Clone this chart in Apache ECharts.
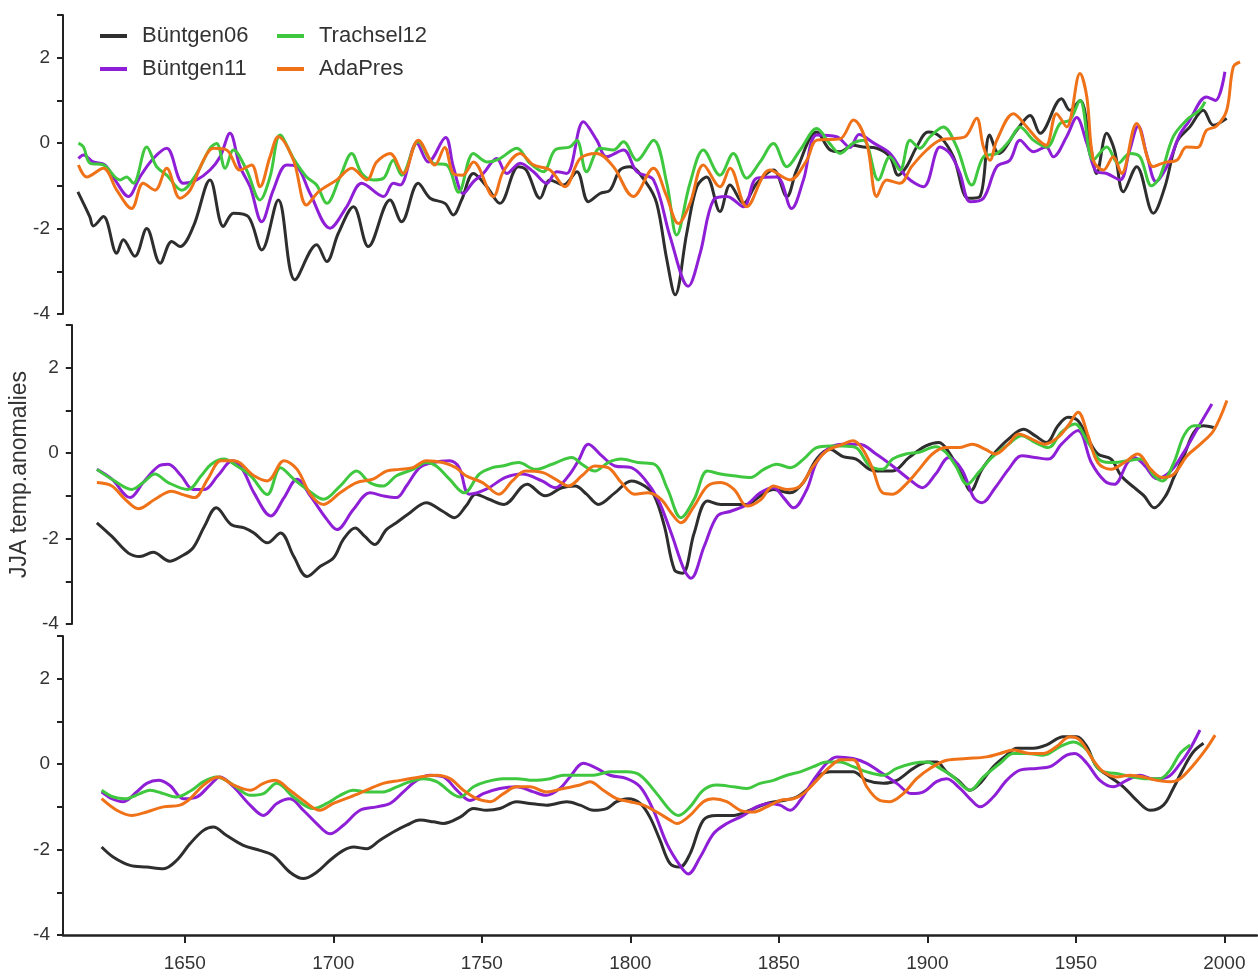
<!DOCTYPE html>
<html>
<head>
<meta charset="utf-8">
<script src="https://cdn.jsdelivr.net/npm/echarts@6/dist/echarts.min.js"></script>
<style>
html,body{margin:0;padding:0;background:#fff;}
#chart{width:1258px;height:979px;}
</style>
</head>
<body>
<div id="chart"></div>
<script>
// ---- data: [year, JJA temperature anomaly] ----
// Panel 1 (top)
const b06_p1 = [[1614,-1.14],[1618,-1.72],[1619.2,-1.94],[1622.6,-1.72],[1627.1,-2.58],[1629.3,-2.26],[1633.2,-2.65],[1637.2,-2.0],[1641.7,-2.81],[1645.6,-2.3],[1648.4,-2.42],[1652.9,-1.95],[1658.5,-0.86],[1663,-1.95],[1666.4,-1.64],[1671.4,-1.72],[1675.9,-2.5],[1681.5,-1.33],[1687.1,-3.2],[1694.4,-2.38],[1697.8,-2.77],[1701.7,-2.11],[1706.8,-1.49],[1711.8,-2.42],[1719.1,-1.33],[1723,-1.84],[1728.6,-0.94],[1732.6,-1.29],[1737.6,-1.41],[1740.4,-1.68],[1743.2,-1.33],[1747.2,-0.71],[1751.7,-1.02],[1756.1,-1.41],[1762.3,-0.55],[1765,-0.63],[1769.6,-1.29],[1773,-0.86],[1777.5,-0.98],[1782,-0.67],[1785.9,-1.37],[1789.8,-1.18],[1793.2,-1.1],[1796.5,-0.63],[1799.9,-0.55],[1805.5,-0.94],[1808.9,-1.41],[1812.3,-2.73],[1815.1,-3.55],[1819,-2.11],[1822.4,-1.02],[1825.7,-0.79],[1830.2,-1.6],[1833.6,-0.98],[1838.1,-1.41],[1842.6,-0.94],[1848.2,-0.63],[1852.7,-1.25],[1856,-0.63],[1862.8,0.26],[1867.3,-0.16],[1870.6,-0.2],[1875,-0.05],[1878.5,-0.09],[1883,-0.12],[1887.4,-0.32],[1890.2,-0.75],[1893,-0.55],[1896.4,-0.09],[1900.3,0.26],[1904.3,0.15],[1908.8,-0.32],[1913.8,-1.29],[1917.7,-1.25],[1921,0.19],[1924,-0.24],[1930.1,0.3],[1934.6,0.65],[1938,0.23],[1945.2,1.04],[1948,0.77],[1951.4,1.0],[1954.8,-0.01],[1957,-0.71],[1960.4,0.23],[1963,-0.16],[1966,-1.14],[1970.5,-0.55],[1976.1,-1.64],[1980,-1.02],[1984,0.03],[1988.4,0.38],[1992.9,0.77],[1996.3,0.42],[2000.8,0.58]];
const b11_p1 = [[1614.2,-0.36],[1615.9,-0.28],[1619.2,-0.44],[1623.1,-0.51],[1626.5,-0.86],[1631,-1.25],[1634.9,-0.79],[1639.4,-0.36],[1643.9,-0.12],[1649.5,-0.94],[1654,-0.86],[1658.5,-0.63],[1661.9,-0.32],[1665.2,0.23],[1668.6,-0.55],[1672,-1.02],[1675.9,-1.84],[1679.8,-1.1],[1684.3,-0.51],[1687.7,-0.55],[1692.2,-1.18],[1698.9,-1.99],[1704.5,-1.49],[1709.6,-0.94],[1716.9,-1.25],[1720.2,-0.94],[1722.5,-0.98],[1728.1,0.0],[1732,-0.44],[1737.8,0.13],[1740.4,-0.55],[1743.8,-1.18],[1747.2,-0.9],[1750.5,-0.71],[1755,-0.36],[1758.4,-0.71],[1762.9,-0.47],[1767.4,-0.67],[1771.9,-0.94],[1775.2,-0.67],[1778.6,-0.71],[1784.2,0.5],[1788.7,0.07],[1792,-0.32],[1797.7,-0.16],[1802.2,-0.67],[1807.8,-0.86],[1813.4,-2.19],[1819.5,-3.35],[1823.5,-2.58],[1828,-1.33],[1832.5,-1.25],[1838.1,-1.49],[1842.6,-0.82],[1849.3,-0.79],[1854.3,-1.53],[1858.3,-0.86],[1862.8,0.19],[1869.5,0.15],[1874,-0.1],[1877,0.2],[1882,0.0],[1887.4,-0.24],[1893,-0.79],[1898.7,-1.02],[1904.3,-0.09],[1907.6,-0.24],[1911,-0.71],[1914.4,-1.37],[1918.9,-1.29],[1923.4,-0.55],[1927.8,-0.4],[1931.2,0.07],[1935.7,-0.2],[1940,-0.09],[1942.4,-0.32],[1946.9,0.15],[1950.3,0.6],[1953.7,0.0],[1957,-0.67],[1960.4,-0.71],[1964.9,-0.86],[1968,-0.2],[1971,0.4],[1974,-0.3],[1977,-0.9],[1981,-0.5],[1985,0.2],[1988,0.5],[1994,1.08],[1997,1.0],[2000.2,1.67]];
const t12_p1 = [[1614.2,0.0],[1615.9,-0.09],[1618.1,-0.47],[1622.6,-0.51],[1628.2,-0.86],[1630.4,-0.79],[1632.7,-0.94],[1637.2,-0.09],[1640.5,-0.55],[1643.9,-0.75],[1649,-1.1],[1654,-0.71],[1658.5,-0.12],[1660.7,-0.01],[1663.6,-0.59],[1666.4,-0.16],[1670.8,-0.63],[1675.3,-1.33],[1678.7,-0.79],[1682.1,0.19],[1686.6,-0.36],[1691,-0.79],[1694.4,-0.98],[1697.8,-1.41],[1702.3,-0.79],[1706.2,-0.24],[1709.6,-0.71],[1713.5,-0.86],[1716.9,-0.82],[1720.2,-0.4],[1723,-0.75],[1728.6,0.03],[1733.7,-0.47],[1738.2,-0.51],[1742.2,-1.15],[1747.2,-0.24],[1751.7,-0.44],[1756.1,-0.36],[1761.8,-0.12],[1766.2,-0.47],[1770.7,-0.67],[1774.7,-0.16],[1779.7,-0.09],[1782,0.07],[1785.3,-0.67],[1789.8,-0.12],[1794.3,-0.16],[1797.7,0.03],[1802.2,-0.4],[1807.8,0.07],[1812.3,-0.94],[1815.6,-2.15],[1820.1,-0.94],[1824.6,-0.16],[1830.2,-0.75],[1834.7,-0.24],[1839.2,-0.82],[1843.7,-0.44],[1848.2,-0.01],[1852.7,-0.55],[1857.2,-0.16],[1862.8,0.34],[1867,0.0],[1870.6,-0.24],[1875,0.0],[1878.5,0.07],[1883.5,-0.86],[1887.4,-0.32],[1890.8,-0.63],[1894.2,0.07],[1897.5,-0.12],[1900.9,0.15],[1905.4,0.38],[1909.9,-0.09],[1915,-0.98],[1918.9,-0.32],[1923.4,-0.24],[1927.8,0.07],[1931.2,0.38],[1935.7,0.07],[1940.2,-0.09],[1944.7,0.46],[1948,0.54],[1951.4,1.0],[1955.9,-0.4],[1960.4,-0.09],[1964.3,-0.47],[1968.2,-0.24],[1971.6,-0.32],[1975.5,-1.0],[1978.3,-0.79],[1982.8,0.15],[1987.3,0.54],[1991.6,0.77],[1993.5,0.97]];
const ada_p1 = [[1614.2,-0.51],[1617,-0.79],[1622.6,-0.59],[1627.1,-1.1],[1632.1,-1.53],[1636,-0.94],[1640,-1.1],[1643.9,-0.59],[1648.4,-1.29],[1651.8,-1.1],[1656.3,-0.4],[1659.6,-0.12],[1664.1,-0.16],[1668.6,-0.63],[1672.5,-0.51],[1675.3,-1.02],[1678.7,-0.32],[1681.5,0.15],[1686.6,-0.4],[1691,-1.45],[1695,-1.14],[1701.2,-0.86],[1706.2,-0.59],[1711.3,-0.86],[1714.6,-0.44],[1719.1,-0.24],[1723.6,-0.71],[1728.6,0.07],[1734.2,-0.51],[1737.5,-0.1],[1740.5,-0.72],[1743.5,-0.75],[1747.2,-0.44],[1753.9,-1.25],[1757.2,-0.67],[1762.9,-0.24],[1767.4,-0.51],[1773,-0.63],[1778,-1.02],[1783.1,-0.36],[1788.7,-0.24],[1794.3,-0.55],[1801,-1.25],[1807.8,-0.59],[1812,-1.2],[1816.2,-1.88],[1820.1,-1.41],[1824.6,-0.51],[1830.2,-1.02],[1833.6,-0.59],[1839.2,-1.49],[1847,-0.63],[1853.8,-0.86],[1859.4,-0.4],[1862.8,0.07],[1870.6,0.1],[1875.1,0.54],[1879.6,0.0],[1883,-1.25],[1886.3,-0.86],[1890.8,-0.94],[1894.7,-0.55],[1899.8,-0.16],[1904.3,0.07],[1908.8,0.11],[1912.7,0.15],[1916.6,0.58],[1918.9,-0.09],[1921.1,-0.4],[1923.4,0.07],[1929,0.69],[1933.5,0.38],[1937,0.1],[1940,-0.05],[1943.5,0.69],[1946.9,0.38],[1951.4,1.63],[1953.7,1.08],[1955.9,-0.4],[1959.3,-0.63],[1962.6,-0.32],[1965.4,-0.71],[1970.5,0.46],[1976.1,-0.55],[1980,-0.45],[1984,-0.4],[1987.3,-0.09],[1991,-0.1],[1994,0.3],[1997.4,0.4],[2000.8,0.77],[2003,1.78],[2005.3,1.9]];
// Panel 2 (middle)
const b06_p2 = [[1617.5,-1.63],[1622.6,-1.95],[1628.2,-2.34],[1632.1,-2.42],[1636.6,-2.32],[1642.2,-2.53],[1646,-2.42],[1650.1,-2.22],[1654,-1.71],[1658,-1.28],[1663,-1.67],[1667.5,-1.75],[1670.8,-1.87],[1675.3,-2.1],[1679.8,-1.87],[1684.3,-2.42],[1688.8,-2.89],[1693.3,-2.65],[1697.8,-2.45],[1701.1,-2.02],[1705.1,-1.75],[1708.4,-1.95],[1711.8,-2.14],[1715.7,-1.79],[1719.1,-1.63],[1723.6,-1.4],[1729.2,-1.16],[1734.8,-1.36],[1738.8,-1.51],[1742.7,-1.24],[1746,-0.96],[1750.5,-1.08],[1755.6,-1.2],[1763.4,-0.73],[1769.6,-1.0],[1775.2,-0.81],[1779.7,-0.77],[1783.6,-0.96],[1787.6,-1.2],[1793.2,-0.93],[1798.8,-0.65],[1803.3,-0.77],[1806.6,-1.0],[1810,-1.71],[1813.4,-2.73],[1816.2,-2.81],[1820.1,-1.87],[1824.6,-1.12],[1829.1,-1.2],[1833.6,-1.2],[1838.1,-1.2],[1842.5,-1.0],[1847,-0.85],[1852.7,-0.93],[1857.1,-0.69],[1861.6,-0.14],[1866.1,0.09],[1870.6,-0.08],[1875,-0.14],[1879.6,-0.38],[1883,-0.42],[1887.4,-0.42],[1893,-0.1],[1898.7,0.17],[1903.1,0.25],[1906.5,0.02],[1911,-0.53],[1913.8,-0.89],[1917.7,-0.38],[1922.2,0.02],[1926.7,0.33],[1931.8,0.56],[1935.7,0.41],[1939.6,0.25],[1943.5,0.64],[1946.9,0.84],[1950.3,0.76],[1953.7,0.33],[1957,-0.02],[1961.5,-0.14],[1964.9,-0.53],[1969.4,-0.81],[1972.7,-1.0],[1976.1,-1.28],[1980,-1.0],[1982.8,-0.57],[1986.2,-0.06],[1989.6,0.49],[1992.9,0.64],[1996.3,0.6]];
const b11_p2 = [[1617.5,-0.38],[1622.6,-0.61],[1628.8,-1.04],[1633.2,-0.69],[1638.3,-0.31],[1641.7,-0.26],[1646.1,-0.53],[1650.1,-0.85],[1654,-0.85],[1658.5,-0.53],[1663.5,-0.18],[1666.9,-0.38],[1670.8,-0.93],[1676.5,-1.47],[1681,-1.04],[1685.4,-0.61],[1689.9,-1.0],[1695.5,-1.55],[1698.9,-1.79],[1704.5,-1.32],[1710.1,-0.93],[1714.6,-1.0],[1719.1,-1.04],[1722.5,-0.77],[1727,-0.34],[1731.5,-0.22],[1737.1,-0.18],[1740.4,-0.34],[1743.8,-0.96],[1749.4,-0.85],[1756.1,-0.57],[1761.7,-0.49],[1768.5,-0.65],[1773,-0.81],[1777.5,-0.53],[1780.8,-0.18],[1784.2,0.21],[1788.7,-0.06],[1793.2,-0.3],[1798.8,-0.34],[1803.3,-0.61],[1807.8,-1.08],[1812.3,-1.87],[1816.7,-2.73],[1819,-2.93],[1823.5,-2.18],[1828,-1.47],[1832.5,-1.36],[1838.1,-1.2],[1842.5,-0.93],[1847,-0.81],[1850.4,-1.04],[1853.8,-1.28],[1858.3,-0.85],[1861.6,-0.22],[1866.1,0.13],[1870.6,0.21],[1876.2,0.21],[1881.8,-0.02],[1887.4,-0.3],[1893,-0.61],[1897.5,-0.81],[1902,-0.49],[1906.5,-0.1],[1911,-0.4],[1914.9,-1.04],[1917.7,-1.16],[1922.2,-0.81],[1926.7,-0.38],[1931.2,-0.06],[1935.7,-0.1],[1940.2,-0.14],[1944.7,0.21],[1950.3,0.53],[1954.8,-0.22],[1959.3,-0.65],[1962.6,-0.73],[1967.1,-0.22],[1969.4,-0.1],[1973,-0.3],[1977,-0.6],[1982,-0.4],[1986,0.0],[1990.7,0.56],[1995.7,1.15]];
const t12_p2 = [[1617.5,-0.38],[1622.6,-0.61],[1629.3,-0.85],[1633.2,-0.69],[1637.2,-0.49],[1641.7,-0.69],[1648.4,-0.85],[1652.9,-0.53],[1656.3,-0.26],[1660.7,-0.14],[1664.1,-0.26],[1669.7,-0.53],[1675.3,-0.97],[1679.8,-0.34],[1684.3,-0.61],[1688.8,-0.85],[1694.4,-1.08],[1700,-0.77],[1705.6,-0.42],[1710.1,-0.69],[1714.6,-0.77],[1719.1,-0.53],[1724.7,-0.38],[1729.2,-0.22],[1732.6,-0.3],[1737.1,-0.61],[1742.1,-0.93],[1747.2,-0.49],[1751.6,-0.34],[1755,-0.3],[1760.6,-0.22],[1766.2,-0.38],[1771.9,-0.26],[1778.6,-0.1],[1782,-0.26],[1786.4,-0.42],[1790.9,-0.22],[1795.4,-0.14],[1801,-0.22],[1806.6,-0.26],[1811.1,-0.85],[1815.6,-1.51],[1820.1,-1.08],[1824.6,-0.42],[1829.1,-0.49],[1833.6,-0.53],[1839.2,-0.57],[1843.7,-0.38],[1848.2,-0.26],[1852.7,-0.34],[1857.2,-0.14],[1861.6,0.13],[1866.1,0.17],[1870.6,0.17],[1875,0.13],[1879.6,-0.3],[1884,-0.38],[1887.4,-0.14],[1891.9,-0.02],[1896.4,0.02],[1902,0.15],[1905.4,0.02],[1908.8,-0.3],[1912.7,-0.73],[1916.6,-0.45],[1921.1,-0.1],[1926.7,0.21],[1931.2,0.41],[1935.7,0.25],[1940.2,0.13],[1944.7,0.49],[1949.2,0.68],[1953.7,0.25],[1958.1,-0.18],[1962.6,-0.22],[1967.1,-0.18],[1971.6,-0.14],[1976.1,-0.53],[1978.9,-0.65],[1982.8,-0.22],[1986.2,0.41],[1989.6,0.64],[1992,0.64]];
const ada_p2 = [[1617.5,-0.69],[1622.6,-0.77],[1627.1,-1.08],[1631.6,-1.3],[1637.2,-1.08],[1642.8,-0.89],[1646.7,-0.97],[1650.6,-1.04],[1655.1,-0.61],[1659.6,-0.18],[1664.1,-0.18],[1670.8,-0.53],[1675.3,-0.65],[1681,-0.18],[1685.4,-0.38],[1690,-0.97],[1694.4,-1.2],[1700,-0.93],[1705.6,-0.69],[1711.2,-0.61],[1715.7,-0.42],[1720.2,-0.38],[1724.7,-0.34],[1729.2,-0.18],[1734.8,-0.22],[1739.3,-0.34],[1742.7,-0.53],[1748.3,-0.69],[1753.9,-0.96],[1758.4,-0.65],[1762.9,-0.42],[1768.5,-0.45],[1773,-0.61],[1777.5,-0.77],[1782,-0.53],[1786.4,-0.3],[1790.9,-0.34],[1795.4,-0.69],[1799.9,-0.96],[1804.4,-0.93],[1808.9,-1.08],[1812.3,-1.4],[1815.6,-1.63],[1820.1,-1.24],[1824.6,-0.77],[1829.1,-0.69],[1833.6,-0.85],[1838.1,-1.24],[1842.5,-1.1],[1847,-0.77],[1851.5,-0.85],[1856,-0.77],[1860.5,-0.3],[1865,0.05],[1870.6,0.21],[1874,0.29],[1877.3,0.09],[1880.7,-0.38],[1884,-0.93],[1887.4,-0.96],[1891.9,-0.73],[1896.4,-0.38],[1900.9,-0.02],[1905.4,0.13],[1909.9,0.13],[1914.4,0.21],[1918.9,0.09],[1922.2,-0.02],[1926.7,0.21],[1930.1,0.45],[1934.6,0.33],[1939,0.21],[1943.5,0.37],[1946.9,0.64],[1950.3,0.96],[1953.7,0.41],[1957,-0.22],[1961.5,-0.38],[1966,-0.22],[1970.5,-0.02],[1975,-0.38],[1978.9,-0.57],[1982.8,-0.49],[1987.3,-0.06],[1991.8,0.21],[1996.3,0.53],[2000.8,1.23]];
// Panel 3 (bottom)
const b06_p3 = [[1622,-1.94],[1626,-2.18],[1631.6,-2.37],[1637.2,-2.41],[1642.8,-2.45],[1647.3,-2.25],[1651.8,-1.86],[1656.3,-1.55],[1659.6,-1.47],[1664.1,-1.67],[1669.7,-1.9],[1675.3,-2.02],[1679.8,-2.14],[1685.4,-2.53],[1689.9,-2.68],[1694.4,-2.53],[1698.9,-2.25],[1703.4,-2.02],[1706.8,-1.94],[1711.2,-1.98],[1715.7,-1.78],[1720.2,-1.59],[1724.7,-1.43],[1729.2,-1.31],[1733.7,-1.35],[1737.1,-1.39],[1742.7,-1.24],[1747.2,-1.04],[1751.6,-1.08],[1756.1,-1.04],[1761.7,-0.88],[1766.2,-0.92],[1771.8,-0.96],[1778.6,-0.88],[1783.1,-0.96],[1787.6,-1.08],[1792,-1.04],[1795.4,-0.88],[1799.3,-0.81],[1803.3,-0.92],[1806.6,-1.24],[1810,-1.78],[1813.4,-2.33],[1816.7,-2.41],[1820.1,-2.1],[1824.6,-1.31],[1829.1,-1.2],[1834.7,-1.2],[1840.3,-1.08],[1845.9,-0.92],[1851.5,-0.85],[1856,-0.77],[1860.5,-0.53],[1863.9,-0.26],[1867.3,-0.18],[1870.6,-0.18],[1875,-0.18],[1879.6,-0.38],[1885.2,-0.45],[1889.7,-0.38],[1895.3,-0.1],[1900.3,0.05],[1903.1,0.05],[1906.5,-0.18],[1910.4,-0.38],[1914.4,-0.61],[1917.7,-0.45],[1922.2,-0.06],[1926.7,0.21],[1930.1,0.37],[1935.7,0.37],[1940.2,0.45],[1945.8,0.64],[1950.3,0.64],[1953.7,0.41],[1957,-0.06],[1961.5,-0.3],[1966,-0.53],[1970.5,-0.85],[1975,-1.08],[1979.5,-0.96],[1982.8,-0.57],[1986.2,-0.1],[1989.6,0.29],[1993,0.49]];
const b11_p3 = [[1622,-0.65],[1625.4,-0.81],[1629.3,-0.88],[1633.8,-0.65],[1637.2,-0.45],[1641.1,-0.38],[1645,-0.5],[1649.5,-0.81],[1654,-0.77],[1658.5,-0.49],[1661.9,-0.3],[1666.4,-0.53],[1672,-0.96],[1676.5,-1.2],[1681,-0.92],[1685.4,-0.81],[1689.9,-1.08],[1694.4,-1.39],[1698.9,-1.63],[1703.4,-1.43],[1709,-1.08],[1714.6,-1.0],[1719.1,-0.92],[1723.6,-0.65],[1728.1,-0.38],[1732.6,-0.26],[1737.1,-0.3],[1741.5,-0.6],[1746,-0.85],[1750.5,-0.69],[1756.1,-0.57],[1761.7,-0.53],[1767.4,-0.65],[1771.8,-0.73],[1776.3,-0.57],[1779.7,-0.3],[1784.2,0.02],[1788.7,-0.1],[1793.2,-0.26],[1798.8,-0.34],[1803.3,-0.53],[1807.8,-1.08],[1812.3,-1.86],[1816.7,-2.37],[1819.5,-2.57],[1823.5,-2.18],[1828,-1.63],[1832.5,-1.39],[1838.1,-1.2],[1842.5,-1.0],[1847,-0.92],[1850.4,-0.96],[1853.8,-1.08],[1857.2,-0.85],[1861.6,-0.38],[1866.1,0.02],[1869.5,0.17],[1875,0.13],[1879.6,0.02],[1884,-0.18],[1889.7,-0.45],[1894.7,-0.69],[1898.7,-0.65],[1903.1,-0.41],[1906.5,-0.34],[1911,-0.57],[1914.9,-0.85],[1917.7,-1.0],[1922.2,-0.77],[1926.7,-0.38],[1931.2,-0.14],[1936.8,-0.1],[1941.3,-0.06],[1946.9,0.21],[1949.7,0.25],[1953.7,0.02],[1958.1,-0.38],[1962.6,-0.53],[1967.1,-0.38],[1971.6,-0.26],[1976,-0.35],[1981,-0.3],[1985,0.0],[1988,0.3],[1991.8,0.8]];
const t12_p3 = [[1622,-0.61],[1626,-0.77],[1629.9,-0.81],[1634.9,-0.69],[1638.3,-0.61],[1642.8,-0.69],[1647.3,-0.77],[1652.3,-0.61],[1656.3,-0.41],[1660.7,-0.3],[1666.4,-0.49],[1672,-0.73],[1676.5,-0.69],[1681,-0.45],[1686.6,-0.77],[1693.3,-1.04],[1697.8,-0.92],[1702.3,-0.73],[1706.8,-0.61],[1711.2,-0.65],[1716.8,-0.65],[1721.4,-0.53],[1725.8,-0.41],[1730.3,-0.34],[1734.8,-0.41],[1742.7,-0.77],[1747.2,-0.53],[1751.6,-0.41],[1757.3,-0.34],[1761.7,-0.34],[1767.4,-0.38],[1773,-0.34],[1777.5,-0.26],[1782,-0.26],[1787.6,-0.26],[1793.2,-0.18],[1798.8,-0.18],[1803.3,-0.26],[1808.9,-0.69],[1813.4,-1.08],[1816.2,-1.2],[1820.1,-1.0],[1824.6,-0.61],[1829.1,-0.49],[1834.7,-0.53],[1839.2,-0.57],[1843.7,-0.45],[1848.2,-0.38],[1852.7,-0.26],[1857.2,-0.18],[1861.6,-0.06],[1866.1,0.05],[1870.6,0.05],[1875,-0.06],[1879.6,-0.18],[1885.2,-0.26],[1889.7,-0.1],[1895.3,0.02],[1899.8,0.05],[1904.3,-0.1],[1908.8,-0.3],[1914.4,-0.61],[1918.9,-0.3],[1924.5,0.02],[1929,0.25],[1933.5,0.25],[1939,0.21],[1944.7,0.41],[1949.2,0.52],[1953.7,0.33],[1958.1,-0.14],[1963.7,-0.22],[1969.4,-0.3],[1973.9,-0.34],[1978.3,-0.34],[1981.7,-0.14],[1985.1,0.25],[1988.5,0.45]];
const ada_p3 = [[1622,-0.81],[1627.1,-1.08],[1632.1,-1.2],[1637.2,-1.12],[1642.8,-1.0],[1648.4,-0.96],[1651.8,-0.81],[1656.3,-0.49],[1661.3,-0.3],[1666.4,-0.49],[1672,-0.61],[1676.5,-0.45],[1680.4,-0.38],[1685.4,-0.61],[1689.9,-0.85],[1695.5,-1.08],[1700,-0.92],[1705.6,-0.77],[1711.2,-0.61],[1716.8,-0.45],[1722.5,-0.38],[1729.2,-0.3],[1734.8,-0.26],[1739.3,-0.34],[1743.8,-0.61],[1748.3,-0.81],[1752.8,-0.88],[1757.3,-0.69],[1761.7,-0.53],[1766.2,-0.53],[1771.8,-0.65],[1777.5,-0.57],[1783.1,-0.49],[1786.4,-0.41],[1790.9,-0.61],[1795.4,-0.81],[1799.9,-0.88],[1804.4,-0.96],[1808.9,-1.12],[1813.4,-1.31],[1815.6,-1.39],[1820.1,-1.2],[1824.6,-0.88],[1828,-0.81],[1832.5,-0.88],[1837,-1.08],[1841.4,-1.12],[1845.9,-1.0],[1850.4,-0.85],[1854.9,-0.81],[1858.3,-0.69],[1862.8,-0.38],[1867.3,-0.06],[1871,0.1],[1875,0.1],[1879.6,-0.53],[1884,-0.85],[1887.4,-0.88],[1891.9,-0.69],[1896.4,-0.34],[1900.9,-0.1],[1906.5,0.09],[1913.3,0.13],[1920,0.17],[1924.5,0.25],[1929,0.33],[1934.6,0.25],[1939,0.25],[1943.5,0.41],[1948,0.64],[1951.4,0.56],[1955.9,0.09],[1959.3,-0.18],[1963.7,-0.3],[1968.2,-0.26],[1972.7,-0.3],[1977.2,-0.38],[1981.7,-0.41],[1985.1,-0.34],[1989.6,-0.02],[1994,0.37],[1996.9,0.68]];

const seriesNames = ['Büntgen06','Büntgen11','Trachsel12','AdaPres'];
const seriesColors = ['#2e2e2e','#8f1fd6','#3fc83f','#f07218'];
const panelData = [
  [b06_p1,b11_p1,t12_p1,ada_p1],
  [b06_p2,b11_p2,t12_p2,ada_p2],
  [b06_p3,b11_p3,t12_p3,ada_p3]
];
const xTicks = [1650,1700,1750,1800,1850,1900,1950,2000];
const yLabels = [-4,-2,0,2];

const FONT = 'Liberation Sans, Arial, sans-serif';
const gridTops = [15,325,636];
const GRID_H = 299;

const grids = gridTops.map(t => ({left:63, right:1, top:t, height:GRID_H}));
const xAxes = gridTops.map((t,i) => ({
  type:'value', gridIndex:i, min:1609, max:2011,
  show: i===2,
  axisLine:{show:true, onZero:false, lineStyle:{color:'#222', width:2.5}},
  axisTick:{show:true, length:8, lineStyle:{color:'#222', width:2}, customValues:xTicks},
  axisLabel:{show:true, customValues:xTicks, margin:19, fontSize:19, color:'#333', fontFamily:FONT,
             formatter: v => String(v)},
  splitLine:{show:false}
}));
const yAxes = gridTops.map((t,i) => ({
  type:'value', gridIndex:i, min:-4, max:3, interval:1,
  axisLine:{show:true, lineStyle:{color:'#222', width:2}},
  axisTick:{show:true, length:6, lineStyle:{color:'#222', width:2}},
  axisLabel:{show:true, customValues:yLabels, margin:13, fontSize:19, color:'#333', fontFamily:FONT},
  splitLine:{show:false},
  name: i===1 ? 'JJA temp.anomalies' : '',
  nameLocation:'middle', nameGap:35, nameRotate:90,
  nameTextStyle:{fontSize:23, color:'#333', fontFamily:FONT}
}));

const series = [];
panelData.forEach((arr,p) => {
  arr.forEach((d,k) => {
    series.push({
      type:'line', name:seriesNames[k], xAxisIndex:p, yAxisIndex:p,
      data:d, showSymbol:false, symbol:'none', smooth:0.35,
      lineStyle:{width:3, color:seriesColors[k]}, itemStyle:{color:seriesColors[k]},
      z: 2 + k, silent:true
    });
  });
});

const legendCommon = {
  orient:'vertical', top:20, itemWidth:27, itemHeight:4, itemGap:11, icon:'rect',
  textStyle:{fontSize:22, color:'#333', fontFamily:FONT, padding:[0,0,0,10]},
  selectedMode:false
};
const chart = echarts.init(document.getElementById('chart'), null, {renderer:'canvas'});
chart.setOption({
  animation:false,
  backgroundColor:'#fff',
  grid:grids, xAxis:xAxes, yAxis:yAxes,
  legend:[
    Object.assign({}, legendCommon, {left:95, data:['Büntgen06','Büntgen11']}),
    Object.assign({}, legendCommon, {left:272, data:['Trachsel12','AdaPres']})
  ],
  series:series
});
</script>
</body>
</html>
